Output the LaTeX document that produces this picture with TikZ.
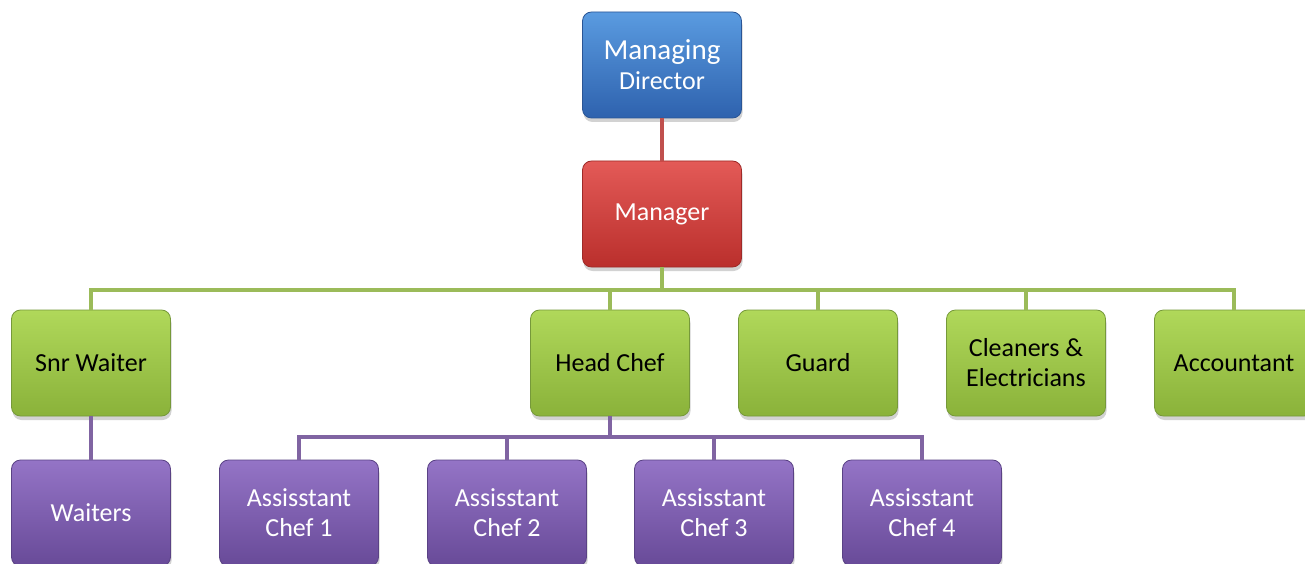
\documentclass[tikz,border=0pt]{standalone}
\usepackage{fontspec}
\setmainfont{Carlito}
\usetikzlibrary{shadows}
\definecolor{bluetop}{HTML}{5A9BE0}
\definecolor{bluebot}{HTML}{2E62AE}
\definecolor{blueedge}{HTML}{2A5595}
\definecolor{redtop}{HTML}{E35A57}
\definecolor{redbot}{HTML}{BA2F2C}
\definecolor{rededge}{HTML}{9E2A28}
\definecolor{greentop}{HTML}{B0D85A}
\definecolor{greenbot}{HTML}{8AB23A}
\definecolor{greenedge}{HTML}{76993A}
\definecolor{purpletop}{HTML}{9474C6}
\definecolor{purplebot}{HTML}{684A98}
\definecolor{purpleedge}{HTML}{5A4285}
\definecolor{redline}{HTML}{C0504D}
\definecolor{greenline}{HTML}{9BBB59}
\definecolor{purpleline}{HTML}{8064A2}
\tikzset{
  orgbox/.style={rectangle, rounded corners=9pt, minimum width=159pt,
    minimum height=106pt, inner sep=2pt, align=center, line width=0.8pt,
    font=\fontsize{26}{30}\selectfont,
    drop shadow={opacity=0.35, shadow xshift=1pt, shadow yshift=-4pt}},
  bluebox/.style={orgbox, draw=blueedge, top color=bluetop, bottom color=bluebot, text=white},
  redbox/.style={orgbox, draw=rededge, top color=redtop, bottom color=redbot, text=white},
  greenbox/.style={orgbox, draw=greenedge, top color=greentop, bottom color=greenbot, text=black},
  purplebox/.style={orgbox, draw=purpleedge, top color=purpletop, bottom color=purplebot, text=white},
  link/.style={line width=4.5pt},
}
\begin{document}
\begin{tikzpicture}[x=1pt, y=-1pt]
\clip (0,0) rectangle (1305,564);
\fill[white] (0,0) rectangle (1305,564);

% connectors
\coordinate (gbus) at (662,290);
\coordinate (pbus) at (610,437);

% boxes
\node[bluebox] (md) at (662,65) {{\fontsize{29}{30}\selectfont Managing}\\Director};
\node[redbox] (mgr) at (662,214) {Manager};

\node[greenbox] (snr) at (91,363) {Snr Waiter};
\node[greenbox] (head) at (610,363) {Head Chef};
\node[greenbox] (guard) at (818,363) {Guard};
\node[greenbox] (clean) at (1026,363) {Cleaners \&\\Electricians};
\node[greenbox] (acc) at (1234,363) {Accountant};

\node[purplebox] (wait) at (91,513) {Waiters};
\node[purplebox] (ac1) at (299,513) {Assisstant\\Chef 1};
\node[purplebox] (ac2) at (507,513) {Assisstant\\Chef 2};
\node[purplebox] (ac3) at (714,513) {Assisstant\\Chef 3};
\node[purplebox] (ac4) at (922,513) {Assisstant\\Chef 4};

% lines of report
\draw[link, redline] (md.south) -- (mgr.north);

\draw[link, greenline] (mgr.south) -- (gbus);
\draw[link, greenline] (snr.north) |- (gbus) -| (acc.north);
\draw[link, greenline] (head.north) -- (head.north |- gbus);
\draw[link, greenline] (guard.north) -- (guard.north |- gbus);
\draw[link, greenline] (clean.north) -- (clean.north |- gbus);

\draw[link, purpleline] (snr.south) -- (wait.north);
\draw[link, purpleline] (head.south) -- (pbus);
\draw[link, purpleline] (ac1.north) |- (pbus) -| (ac4.north);
\draw[link, purpleline] (ac2.north) -- (ac2.north |- pbus);
\draw[link, purpleline] (ac3.north) -- (ac3.north |- pbus);
\end{tikzpicture}
\end{document}
